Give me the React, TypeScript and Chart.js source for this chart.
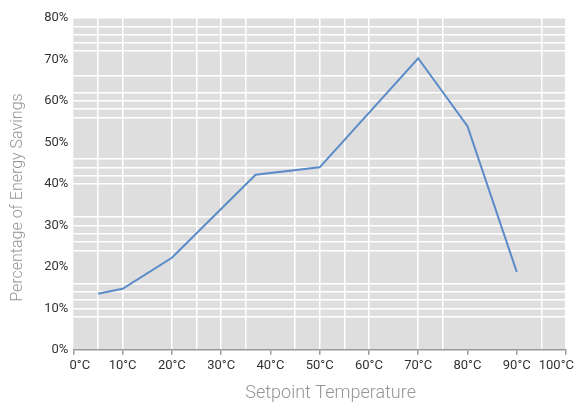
import { useEffect, useRef } from "react";
import Chart from "chart.js/auto";

// Setpoint temperature (°C) and the savings (%)
const setpoints = [5, 10, 20, 37, 50, 70, 80, 90];
const savings = [13.5, 14.7, 22.2, 42.2, 44.0, 70.3, 53.9, 18.8];

// the source picture only shows some of its grid lines
const xGridValues = [5, 10, 20, 25, 30, 35, 45, 50, 55, 60, 70, 75, 95, 100];
const yGridValues = [8, 10, 12, 14, 16, 24, 26, 28, 30, 32, 40, 42, 44, 46, 56, 58, 60, 62, 66, 72, 74, 76, 78, 80];

const FONT = "Roboto, 'DejaVu Sans Condensed', sans-serif";

const plotBackground = {
  id: "plotBackground",
  beforeDraw(chart: Chart) {
    const { ctx, chartArea } = chart;
    ctx.save();
    ctx.fillStyle = "#dedede";
    ctx.fillRect(chartArea.left, chartArea.top, chartArea.width, chartArea.height);
    ctx.restore();
  },
};

// the end labels sit a little inside the axis ends, as in the original
function tempLabel(v: number) {
  if (v % 10 !== 0) return "";
  if (v === 0) return `    ${v}°C`;
  if (v === 100) return `${v}°C      `;
  return `${v}°C`;
}

export default function App() {
  const canvasRef = useRef<HTMLCanvasElement | null>(null);

  useEffect(() => {
    if (!canvasRef.current) return;

    const chart = new Chart(canvasRef.current, {
      type: "line",
      data: {
        datasets: [
          {
            label: "Energy savings",
            data: setpoints.map((t, i) => ({ x: t, y: savings[i] })),
            borderColor: "#5b8bc9",
            borderWidth: 2,
            pointRadius: 0,
            tension: 0,
            fill: false,
          },
        ],
      },
      options: {
        animation: false,
        responsive: true,
        maintainAspectRatio: false,
        layout: { padding: { left: 8, right: 9, top: 18, bottom: 1 } },
        plugins: { legend: { display: false }, tooltip: { enabled: false } },
        scales: {
          x: {
            type: "linear",
            min: 0,
            max: 100,
            afterFit: (scale) => {
              scale.paddingLeft = 0;
              scale.paddingRight = 0;
            },
            ticks: {
              stepSize: 5,
              autoSkip: false,
              maxRotation: 0,
              padding: 3,
              color: "#333",
              font: { family: FONT, size: 13 },
              callback: (v) => tempLabel(Number(v)),
            },
            grid: {
              color: (ctx) => (xGridValues.includes(ctx.tick?.value) ? "#ffffff" : "rgba(0,0,0,0)"),
              tickColor: (ctx) => (Number(ctx.tick?.value) % 10 === 0 ? "#9a9a9a" : "rgba(0,0,0,0)"),
              lineWidth: 1.5,
              tickLength: 5,
            },
            border: { display: true, color: "#9a9a9a", width: 1.5 },
            title: {
              display: true,
              text: "     Setpoint Temperature",
              color: "#959595",
              font: { family: FONT, size: 18, weight: 300 },
              padding: { top: 6, bottom: 0 },
            },
          },
          y: {
            min: 0,
            max: 80,
            ticks: {
              stepSize: 2,
              autoSkip: false,
              padding: 5,
              color: "#333",
              font: { family: FONT, size: 13 },
              callback: (v) => (Number(v) % 10 === 0 ? `${v}%` : ""),
            },
            grid: {
              color: (ctx) => (yGridValues.includes(ctx.tick?.value) ? "#ffffff" : "rgba(0,0,0,0)"),
              lineWidth: 1.5,
              drawTicks: false,
            },
            border: { display: false },
            title: {
              display: true,
              text: "Percentage of Energy Savings       ",
              color: "#959595",
              font: { family: FONT, size: 16, weight: 300 },
              padding: { top: 0, bottom: 12 },
            },
          },
        },
      },
      plugins: [plotBackground],
    });

    return () => chart.destroy();
  }, []);

  return (
    <div style={{ position: "fixed", left: 0, top: 0, width: 575, height: 405, background: "#fff" }}>
      <canvas ref={canvasRef} />
    </div>
  );
}
